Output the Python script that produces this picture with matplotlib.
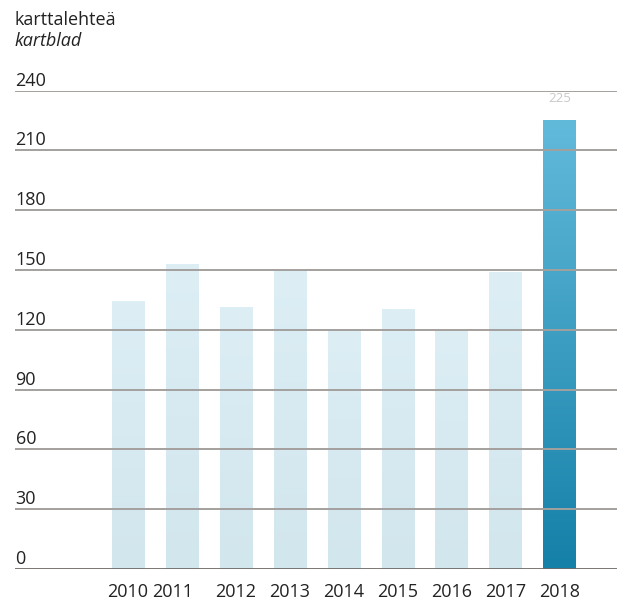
import matplotlib
matplotlib.use('Agg')
import matplotlib.pyplot as plt
import matplotlib.transforms as mtransforms
from matplotlib.colors import LinearSegmentedColormap
import numpy as np

# data
years = ['2010', '2011', '2012', '2013', '2014', '2015', '2016', '2017', '2018']
sheets = [134, 153, 131, 150, 120, 130, 119, 149, 225]
y_ticks = [0, 30, 60, 90, 120, 150, 180, 210, 240]

plt.rcParams['font.family'] = ['Open Sans', 'DejaVu Sans']

fig = plt.figure(figsize=(6.22, 6.04), dpi=100)
ax = fig.add_axes([0.024, 0.058, 0.968, 0.792])

light = LinearSegmentedColormap.from_list('light', ['#d2e6ed', '#ddeef5'])
dark = LinearSegmentedColormap.from_list('dark', ['#1580a8', '#62badb'])
grad = np.linspace(0, 1, 256).reshape(-1, 1)

width = 0.594
x = np.arange(len(years))
for i, v in enumerate(sheets):
    cmap = dark if i == len(sheets) - 1 else light
    ax.imshow(grad, extent=[x[i] - width / 2, x[i] + width / 2, 0, v],
              origin='lower', aspect='auto', cmap=cmap, zorder=1)

# gridlines
for t in y_ticks[1:]:
    ax.axhline(t, color='#a3a09e', lw=1.4, zorder=2)
ax.axhline(0, color='#6e6a68', lw=2.0, zorder=3)

# y labels sit on top of the gridlines
trans = mtransforms.blended_transform_factory(ax.transAxes, ax.transData)
trans = trans + mtransforms.ScaledTranslation(0, 5 / 100, fig.dpi_scale_trans)
for t in y_ticks:
    ax.text(0.001, t, str(t), transform=trans, ha='left', va='baseline',
            fontsize=13, color='#222222')

ax.text(x[-1], sheets[-1] + 8, str(sheets[-1]), ha='center', va='bottom',
        fontsize=9.5, color='#c8c8c8')

ax.set_xlim(-2.096, 9.07)
ax.set_ylim(0, 240)
ax.set_yticks([])
ax.set_xticks(x)
ax.set_xticklabels(years, fontsize=13, color='#222222')
ax.tick_params(axis='x', length=0, pad=10)
# the 2011 label is nudged left in the original
lbl = ax.get_xticklabels()[1]
lbl.set_transform(lbl.get_transform() + mtransforms.ScaledTranslation(-9 / 100, 0, fig.dpi_scale_trans))
for s in ax.spines.values():
    s.set_visible(False)

fig.text(15 / 622, 1 - 20 / 604, 'karttalehteä', fontsize=13, color='#222222', va='center')
fig.text(15 / 622, 1 - 41 / 604, 'kartblad', fontsize=13, color='#222222', va='center', style='italic')

fig.savefig('out.png', dpi=100)
